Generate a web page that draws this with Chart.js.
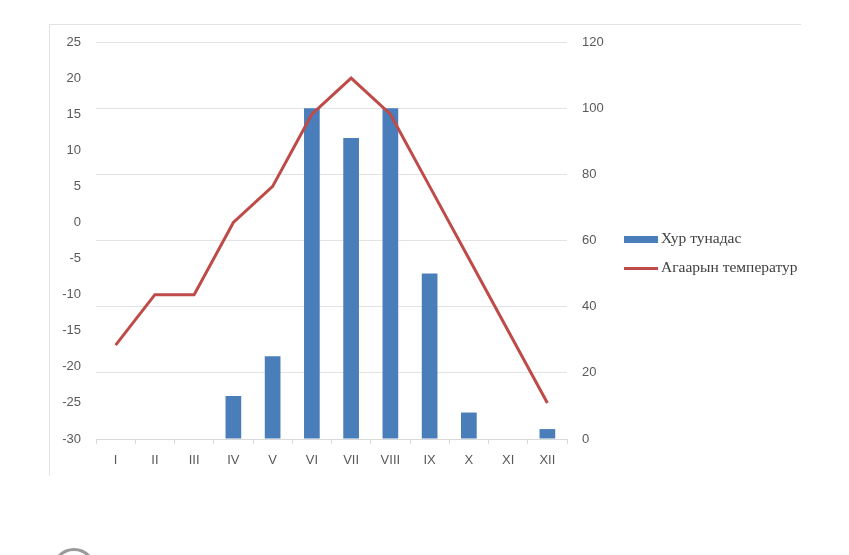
<!DOCTYPE html>
<html>
<head>
<meta charset="utf-8">
<script src="https://cdn.jsdelivr.net/npm/chart.js@4"></script>
<style>
    html, body { margin: 0; padding: 0; background: #fff; }
    #wrap { position: relative; width: 849px; height: 555px; overflow: hidden; }
    #frame { position: absolute; left: 49px; top: 24px; width: 751px; height: 451px;
             border-top: 1px solid #e3e3e3; border-left: 1px solid #e3e3e3; }
    canvas { position: absolute; left: 0; top: 0; }
    .legend { position: absolute; left: 624px; font-family: 'Liberation Serif', 'DejaVu Serif', serif;
              font-size: 15.5px; color: #404040; line-height: 16px; }
    .legend span.sw { display: inline-block; width: 34px; vertical-align: middle; margin-right: 3px; }
    #circle { position: absolute; left: 52px; top: 548px; width: 38px; height: 38px; border-radius: 50%;
              border: 3px solid #9a9a9a; }
</style>
</head>
<body>
<div id="wrap">
    <div id="frame"></div>
    <canvas id="chart" width="849" height="555"></canvas>
    <div class="legend" style="top: 230px;"><span class="sw" style="height:7px;background:#4a7ebb;"></span>Хур тунадас</div>
    <div class="legend" style="top: 259px;"><span class="sw" style="height:3px;background:#be4b48;"></span>Агаарын температур</div>
    <div id="circle"></div>
</div>
<script>
// Сарууд
const months = ['I', 'II', 'III', 'IV', 'V', 'VI', 'VII', 'VIII', 'IX', 'X', 'XI', 'XII'];
// Хур тунадас (мм) - баруун тэнхлэг
const precipitation = [0, 0, 0, 13, 25, 100, 91, 100, 50, 8, 0, 3];
// Агаарын температур (°C) - зүүн тэнхлэг
const temperature = [-17, -10, -10, 0, 5, 15, 20, 15, 5, -5, -15, -25];
// Тэнхлэгийн хязгаар
const tempTicks = [-30, 25, 5];
const precTicks = [0, 120, 20];

Chart.defaults.font.family = "'Liberation Sans', Arial, sans-serif";
Chart.defaults.font.size = 13;
Chart.defaults.color = '#595959';

const ctx = document.getElementById('chart');
new Chart(ctx, {
    type: 'bar',
    data: {
        labels: months,
        datasets: [{
            type: 'line',
            label: 'Агаарын температур',
            data: temperature,
            yAxisID: 'y',
            borderColor: '#be4b48',
            borderWidth: 3,
            pointRadius: 0,
            tension: 0,
            order: 0
        }, {
            type: 'bar',
            label: 'Хур тунадас',
            data: precipitation,
            yAxisID: 'y1',
            backgroundColor: '#4a7ebb',
            categoryPercentage: 1,
            barPercentage: 0.4,
            order: 1
        }]
    },
    options: {
        responsive: false,
        animation: false,
        layout: {
            padding: { left: 50, right: 222, top: 42, bottom: 86 }
        },
        plugins: {
            legend: { display: false },
            tooltip: { enabled: false }
        },
        scales: {
            x: {
                grid: {
                    display: true,
                    drawOnChartArea: false,
                    drawTicks: true,
                    tickLength: 5,
                    color: '#d9d9d9'
                },
                border: { display: true, color: '#d9d9d9' },
                ticks: { padding: 9 },
                afterFit: function(scale) { scale.height = 30; }
            },
            y: {
                position: 'left',
                min: tempTicks[0],
                max: tempTicks[1],
                ticks: { stepSize: tempTicks[2], padding: 15 },
                grid: { display: false, drawTicks: false },
                border: { display: false },
                afterFit: function(scale) { scale.width = 46; }
            },
            y1: {
                position: 'right',
                min: precTicks[0],
                max: precTicks[1],
                ticks: { stepSize: precTicks[2], padding: 15 },
                grid: { color: '#e3e3e3', drawTicks: false },
                border: { display: false },
                afterFit: function(scale) { scale.width = 60; }
            }
        }
    }
});
</script>
</body>
</html>
